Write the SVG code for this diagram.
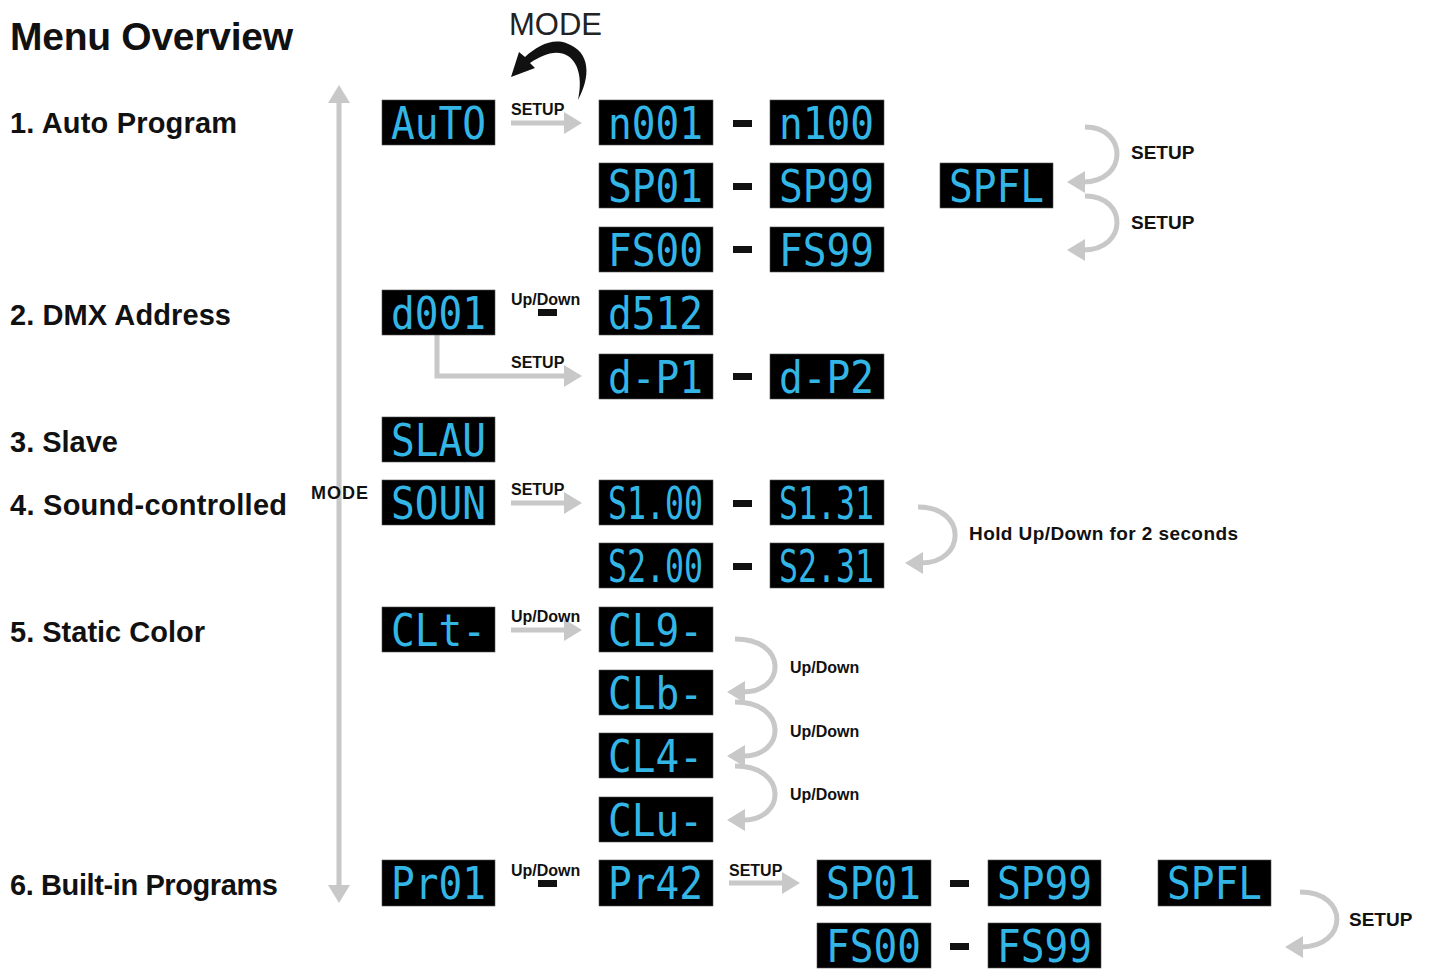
<svg xmlns="http://www.w3.org/2000/svg" width="1432" height="970" viewBox="0 0 1432 970">
<style>
.bg{fill:#fff}
.box{fill:#000;stroke:#555;stroke-width:0.6}
.lcd{font-family:"DejaVu Sans Mono","Liberation Mono",monospace;font-size:44px;fill:#33b6e6}
.sec{font-family:"Liberation Sans",Arial,sans-serif;font-weight:bold;font-size:29px;fill:#111}
.title{font-family:"Liberation Sans",Arial,sans-serif;font-weight:bold;font-size:39px;fill:#111}
.lbl{font-family:"Liberation Sans",Arial,sans-serif;font-weight:bold;font-size:16px;fill:#111}
.lbl2{font-family:"Liberation Sans",Arial,sans-serif;font-weight:bold;font-size:19px;fill:#111}
.conn{fill:none;stroke:#c8c8c8;stroke-width:5}
.dash{fill:#111}
</style>
<defs>
<marker id="ah" markerUnits="userSpaceOnUse" markerWidth="20" markerHeight="22" refX="2" refY="11" orient="auto-start-reverse">
<path d="M0,0 L18,11 L0,22 Z" fill="#c8c8c8"/>
</marker>
</defs>
<rect class="bg" x="0" y="0" width="1432" height="970"/>

<text class="title" x="10" y="50" textLength="283">Menu Overview</text>
<g id="labels">
<text class="sec" x="10" y="133" textLength="227">1. Auto Program</text>
<text class="sec" x="10" y="325" textLength="221">2. DMX Address</text>
<text class="sec" x="10" y="452" textLength="108">3. Slave</text>
<text class="sec" x="10" y="515" textLength="277">4. Sound-controlled</text>
<text class="sec" x="10" y="642" textLength="195">5. Static Color</text>
<text class="sec" x="10" y="895" textLength="268">6. Built-in Programs</text>
</g>

<g id="connectors">
<line class="conn" x1="339" y1="101" x2="339" y2="887" marker-start="url(#ah)" marker-end="url(#ah)"/>
<line class="conn" x1="511" y1="123" x2="566" y2="123" marker-end="url(#ah)"/>
<path class="conn" d="M437,335 V376 H566" marker-end="url(#ah)"/>
<line class="conn" x1="511" y1="503" x2="566" y2="503" marker-end="url(#ah)"/>
<line class="conn" x1="511" y1="630" x2="566" y2="630" marker-end="url(#ah)"/>
<line class="conn" x1="729" y1="883" x2="784" y2="883" marker-end="url(#ah)"/>
<path class="conn" d="M1085,127 C1128,127 1128,182 1083,182" marker-end="url(#ah)"/>
<path class="conn" d="M1085,196 C1128,196 1128,250 1083,250" marker-end="url(#ah)"/>
<path class="conn" d="M918,507 C968,507 966,563 921,563" marker-end="url(#ah)"/>
<path class="conn" d="M735,639 C788,639 786,692 743,692" marker-end="url(#ah)"/>
<path class="conn" d="M735,702 C788,702 786,756 743,756" marker-end="url(#ah)"/>
<path class="conn" d="M735,766 C788,766 786,820 743,820" marker-end="url(#ah)"/>
<path class="conn" d="M1300,892 C1350,892 1348,947 1301,947" marker-end="url(#ah)"/>
<path fill="#111" d="M578,100 C590,78 592,52 566,43 C552,38 537,46 525,57 L519,52 L511,77 L535,68 L530,63 C543,54 557,49 568,56 C580,64 582,82 578,100 Z"/>
</g>

<g id="conn-labels">
<text x="509" y="35" style="font-family:'Liberation Sans',Arial,sans-serif;font-size:31px;fill:#222">MODE</text>
<text class="lbl" x="311" y="499" style="font-size:18px" textLength="57">MODE</text>
<text class="lbl" x="511" y="115">SETUP</text>
<text class="lbl" x="511" y="305">Up/Down</text>
<text class="lbl" x="511" y="368">SETUP</text>
<text class="lbl" x="511" y="495">SETUP</text>
<text class="lbl" x="511" y="622">Up/Down</text>
<text class="lbl" x="511" y="876">Up/Down</text>
<text class="lbl" x="729" y="876">SETUP</text>
<text class="lbl2" x="1131" y="159">SETUP</text>
<text class="lbl2" x="1131" y="229">SETUP</text>
<text class="lbl2" x="969" y="540" textLength="269">Hold Up/Down for 2 seconds</text>
<text class="lbl" x="790" y="673">Up/Down</text>
<text class="lbl" x="790" y="737">Up/Down</text>
<text class="lbl" x="790" y="800">Up/Down</text>
<text class="lbl2" x="1349" y="926">SETUP</text>
</g>

<g id="dashes">
<rect class="dash" x="733" y="120" width="19" height="7"/>
<rect class="dash" x="733" y="183" width="19" height="7"/>
<rect class="dash" x="733" y="246" width="19" height="7"/>
<rect class="dash" x="538" y="309" width="19" height="7"/>
<rect class="dash" x="733" y="373" width="19" height="7"/>
<rect class="dash" x="733" y="500" width="19" height="7"/>
<rect class="dash" x="733" y="563" width="19" height="7"/>
<rect class="dash" x="538" y="880" width="19" height="7"/>
<rect class="dash" x="950" y="880" width="19" height="7"/>
<rect class="dash" x="950" y="943" width="19" height="7"/>
</g>

<g id="n-auto"><rect class="box" x="382" y="100" width="113" height="45"/><text class="lcd" x="391" y="139" textLength="95" lengthAdjust="spacingAndGlyphs">AuTO</text></g>
<g id="n-n001"><rect class="box" x="599" y="100" width="114" height="45"/><text class="lcd" x="608" y="139" textLength="95" lengthAdjust="spacingAndGlyphs">n001</text></g>
<g id="n-n100"><rect class="box" x="770" y="100" width="114" height="45"/><text class="lcd" x="779" y="139" textLength="95" lengthAdjust="spacingAndGlyphs">n100</text></g>
<g id="n-sp01"><rect class="box" x="599" y="163" width="114" height="45"/><text class="lcd" x="608" y="202" textLength="95" lengthAdjust="spacingAndGlyphs">SP01</text></g>
<g id="n-sp99"><rect class="box" x="770" y="163" width="114" height="45"/><text class="lcd" x="779" y="202" textLength="95" lengthAdjust="spacingAndGlyphs">SP99</text></g>
<g id="n-spfl"><rect class="box" x="940" y="163" width="113" height="45"/><text class="lcd" x="949" y="202" textLength="95" lengthAdjust="spacingAndGlyphs">SPFL</text></g>
<g id="n-fs00"><rect class="box" x="599" y="227" width="114" height="45"/><text class="lcd" x="608" y="266" textLength="95" lengthAdjust="spacingAndGlyphs">FS00</text></g>
<g id="n-fs99"><rect class="box" x="770" y="227" width="114" height="45"/><text class="lcd" x="779" y="266" textLength="95" lengthAdjust="spacingAndGlyphs">FS99</text></g>
<g id="n-d001"><rect class="box" x="382" y="290" width="113" height="45"/><text class="lcd" x="391" y="329" textLength="95" lengthAdjust="spacingAndGlyphs">d001</text></g>
<g id="n-d512"><rect class="box" x="599" y="290" width="114" height="45"/><text class="lcd" x="608" y="329" textLength="95" lengthAdjust="spacingAndGlyphs">d512</text></g>
<g id="n-dp1"><rect class="box" x="599" y="354" width="114" height="45"/><text class="lcd" x="608" y="393" textLength="95" lengthAdjust="spacingAndGlyphs">d-P1</text></g>
<g id="n-dp2"><rect class="box" x="770" y="354" width="114" height="45"/><text class="lcd" x="779" y="393" textLength="95" lengthAdjust="spacingAndGlyphs">d-P2</text></g>
<g id="n-slau"><rect class="box" x="382" y="417" width="113" height="45"/><text class="lcd" x="391" y="456" textLength="95" lengthAdjust="spacingAndGlyphs">SLAU</text></g>
<g id="n-soun"><rect class="box" x="382" y="480" width="113" height="45"/><text class="lcd" x="391" y="519" textLength="95" lengthAdjust="spacingAndGlyphs">SOUN</text></g>
<g id="n-s100"><rect class="box" x="599" y="480" width="114" height="45"/><text class="lcd" x="608" y="519" textLength="95" lengthAdjust="spacingAndGlyphs">S1.00</text></g>
<g id="n-s131"><rect class="box" x="770" y="480" width="114" height="45"/><text class="lcd" x="779" y="519" textLength="95" lengthAdjust="spacingAndGlyphs">S1.31</text></g>
<g id="n-s200"><rect class="box" x="599" y="543" width="114" height="45"/><text class="lcd" x="608" y="582" textLength="95" lengthAdjust="spacingAndGlyphs">S2.00</text></g>
<g id="n-s231"><rect class="box" x="770" y="543" width="114" height="45"/><text class="lcd" x="779" y="582" textLength="95" lengthAdjust="spacingAndGlyphs">S2.31</text></g>
<g id="n-clt"><rect class="box" x="382" y="607" width="113" height="45"/><text class="lcd" x="391" y="646" textLength="95" lengthAdjust="spacingAndGlyphs">CLt-</text></g>
<g id="n-cl9"><rect class="box" x="599" y="607" width="114" height="45"/><text class="lcd" x="608" y="646" textLength="95" lengthAdjust="spacingAndGlyphs">CL9-</text></g>
<g id="n-clb"><rect class="box" x="599" y="670" width="114" height="45"/><text class="lcd" x="608" y="709" textLength="95" lengthAdjust="spacingAndGlyphs">CLb-</text></g>
<g id="n-cl4"><rect class="box" x="599" y="733" width="114" height="45"/><text class="lcd" x="608" y="772" textLength="95" lengthAdjust="spacingAndGlyphs">CL4-</text></g>
<g id="n-clu"><rect class="box" x="599" y="797" width="114" height="45"/><text class="lcd" x="608" y="836" textLength="95" lengthAdjust="spacingAndGlyphs">CLu-</text></g>
<g id="n-pr01"><rect class="box" x="382" y="860" width="113" height="46"/><text class="lcd" x="391" y="899" textLength="95" lengthAdjust="spacingAndGlyphs">Pr01</text></g>
<g id="n-pr42"><rect class="box" x="599" y="860" width="114" height="46"/><text class="lcd" x="608" y="899" textLength="95" lengthAdjust="spacingAndGlyphs">Pr42</text></g>
<g id="n-sp01b"><rect class="box" x="817" y="860" width="114" height="46"/><text class="lcd" x="826" y="899" textLength="95" lengthAdjust="spacingAndGlyphs">SP01</text></g>
<g id="n-sp99b"><rect class="box" x="988" y="860" width="113" height="46"/><text class="lcd" x="997" y="899" textLength="95" lengthAdjust="spacingAndGlyphs">SP99</text></g>
<g id="n-spflb"><rect class="box" x="1158" y="860" width="113" height="46"/><text class="lcd" x="1167" y="899" textLength="95" lengthAdjust="spacingAndGlyphs">SPFL</text></g>
<g id="n-fs00b"><rect class="box" x="817" y="923" width="114" height="45"/><text class="lcd" x="826" y="962" textLength="95" lengthAdjust="spacingAndGlyphs">FS00</text></g>
<g id="n-fs99b"><rect class="box" x="988" y="923" width="113" height="45"/><text class="lcd" x="997" y="962" textLength="95" lengthAdjust="spacingAndGlyphs">FS99</text></g>
</svg>
